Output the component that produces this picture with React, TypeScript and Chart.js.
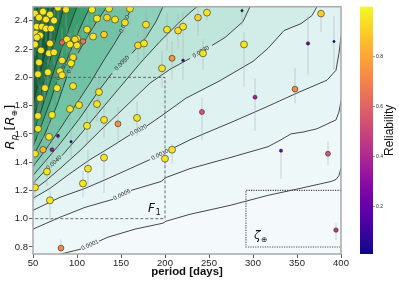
import React, { useEffect, useRef } from "react";
import { Chart, registerables } from "chart.js";

Chart.register(...registerables);

// ---------------- axes ----------------
const xTicks = [50, 100, 150, 200, 250, 300, 350, 400];
const yTicks = [0.8, 1.0, 1.2, 1.4, 1.6, 1.8, 2.0, 2.2, 2.4];
const xRange = [50, 400];
const yRange = [0.75, 2.5];
const cbarTicks = [0.2, 0.4, 0.6, 0.8];
const cbarRange = [0.01, 1.0];

// ---------------- contour lines (period, radius) ----------------
const contourLevels = ["0.0001", "0.0005", "0.0010", "0.0020", "0.0030", "0.0040", "0.0050", "0.0060", "0.0070", "0.0080", "0.0090", "0.0100", "0.0110"];
const c0001P = [50.0, 81.8, 104.5, 125.0, 135.2, 165.9, 197.7, 201.1, 228.4, 273.9, 317.0, 353.4, 388.6, 394.3, 397.7, 400];
const c0001R = [0.69, 0.75, 0.785, 0.841, 0.869, 0.926, 0.968, 0.982, 1.031, 1.094, 1.165, 1.214, 1.263, 1.277, 1.305, 1.361];
const c0005P = [50, 80.7, 109.1, 140.9, 161.4, 195.5, 201.1, 228.4, 273.9, 317.0, 331.8, 343.2, 357.9, 372.7, 394.3, 397.7, 400];
const c0005R = [0.926, 1.010, 1.080, 1.137, 1.200, 1.263, 1.291, 1.354, 1.432, 1.509, 1.558, 1.600, 1.614, 1.636, 1.699, 1.755, 1.832];
const c0010P = [50, 80.7, 109.1, 135.2, 160.2, 182.9, 205.7, 228.4, 246.6, 273.9, 312.5, 350.0, 384.1, 394.3, 397.7, 400];
const c0010R = [1.059, 1.151, 1.214, 1.284, 1.354, 1.418, 1.488, 1.558, 1.607, 1.678, 1.783, 1.889, 1.980, 2.050, 2.170, 2.289];
const c0020P = [50, 69.3, 92.0, 114.8, 135.2, 160.2, 179.5, 194.3, 223.9, 261.4, 300.0, 317.0, 335.2, 354.5, 367.0, 372.7];
const c0020R = [1.144, 1.214, 1.319, 1.418, 1.495, 1.593, 1.657, 1.720, 1.853, 1.973, 2.113, 2.205, 2.331, 2.380, 2.437, 2.500];
const c0030P = [50, 63.6, 80.7, 103.4, 126.1, 152.3, 182.9, 205.7, 228.4, 253.4, 268.2, 288.6, 296.6];
const c0030R = [1.200, 1.263, 1.354, 1.481, 1.621, 1.776, 1.959, 2.057, 2.134, 2.226, 2.282, 2.394, 2.500];
const c0040P = [50, 64.8, 83.0, 103.4, 126.1, 149.0, 171.6, 194.3, 214.8, 228.4, 236.4];
const c0040R = [1.249, 1.347, 1.446, 1.593, 1.762, 1.931, 2.099, 2.254, 2.381, 2.458, 2.500];
const c0050P = [50, 63.6, 80.7, 103.4, 126.1, 139.8, 162.5, 178.4, 189.8, 197.7];
const c0050R = [1.305, 1.404, 1.530, 1.713, 1.917, 2.029, 2.170, 2.282, 2.395, 2.500];
const c0060P = [50, 63.6, 80.7, 97.7, 114.8, 131.8, 142.0, 150.0, 157.9, 162.5];
const c0060R = [1.368, 1.481, 1.635, 1.797, 1.959, 2.134, 2.233, 2.317, 2.437, 2.500];
const c0070P = [50, 63.6, 77.3, 88.6, 101.1, 112.5, 123.9, 134.1];
const c0070R = [1.439, 1.600, 1.804, 2.008, 2.170, 2.296, 2.409, 2.500];
const c0080P = [50, 60.2, 69.3, 77.3, 87.5, 97.7, 106.8, 114.8];
const c0080R = [1.509, 1.671, 1.825, 1.973, 2.106, 2.268, 2.394, 2.500];
const c0090P = [50, 59.1, 68.2, 77.3, 87.5, 100.0];
const c0090R = [1.593, 1.762, 1.938, 2.113, 2.289, 2.500];
const c0100P = [50, 58.0, 65.9, 75.0, 85.2];
const c0100R = [1.692, 1.860, 2.043, 2.254, 2.500];
const c0110P = [50, 56.8, 64.8, 73.9];
const c0110R = [1.804, 1.987, 2.198, 2.500];
// segment (point index) of each line that carries its inline label, -1 = none
const contourLabelSeg = [2, 3, 5, 5, 8, 1, 5, 7, 3, 3, -1, -1, -1];

// ---------------- planets ----------------
const planetPeriod = [52.3, 56.8, 61.4, 69.3, 64.8, 78.4, 87.5, 117.0, 136.4, 160.2,
  122.7, 134.1, 143.2, 154.5, 178.4, 54.5, 60.2, 64.8, 70.5, 73.9,
  53.4, 58.0, 54.5, 111.4, 100.0, 130.7, 118.2, 202.3, 214.8, 220.5,
  52.3, 69.3, 83.0, 88.6, 97.7, 106.8, 100.0, 92.0, 59.1, 68.2,
  73.9, 95.5, 83.0, 93.2, 169.3, 176.1, 208.0, 220.5, 196.6, 56.8,
  80.7, 83.0, 55.7, 67.0, 63.6, 77.3, 95.5, 125.0, 58.0, 92.0,
  102.3, 122.7, 55.7, 71.6, 130.7, 146.6, 168.2, 111.4, 55.7, 68.2,
  78.4, 93.2, 61.4, 52.3, 71.6, 65.9, 52.3, 69.3, 106.8, 112.5,
  130.7, 200.0, 208.0, 81.8, 237.5, 247.7, 287.5, 289.8, 243.2, 362.5,
  392.0, 377.3, 347.7, 302.3, 242.0, 331.8, 385.2, 394.3];
const planetRadius = [2.451, 2.423, 2.465, 2.444, 2.409, 2.493, 2.479, 2.479, 2.486, 2.486,
  2.416, 2.423, 2.409, 2.388, 2.373, 2.359, 2.359, 2.345, 2.345, 2.402,
  2.310, 2.296, 2.282, 2.338, 2.275, 2.303, 2.289, 2.338, 2.331, 2.359,
  2.233, 2.240, 2.247, 2.268, 2.268, 2.254, 2.226, 2.233, 2.191, 2.170,
  2.177, 2.142, 2.120, 2.099, 2.226, 2.240, 2.135, 2.120, 2.064, 2.106,
  2.043, 2.015, 2.022, 2.036, 1.924, 1.924, 1.938, 1.896, 1.853, 1.776,
  1.804, 1.811, 1.727, 1.734, 1.699, 1.671, 1.713, 1.657, 1.636, 1.579,
  1.586, 1.544, 1.488, 1.460, 1.488, 1.333, 1.221, 1.130, 1.249, 1.354,
  1.432, 1.425, 1.488, 0.792, 2.423, 2.458, 2.472, 2.233, 2.170, 2.240,
  2.254, 2.451, 1.917, 1.860, 1.755, 1.481, 1.460, 0.919];
const planetReliability = [0.96, 0.95, 0.97, 0.96, 0.95, 0.97, 0.95, 0.97, 0.96, 0.95,
  0.96, 0.92, 0.95, 0.93, 0.94, 0.96, 0.95, 0.97, 0.95, 0.96,
  0.95, 0.97, 0.95, 0.95, 0.96, 0.90, 0.95, 0.95, 0.93, 0.95,
  0.96, 0.95, 0.62, 0.95, 0.93, 0.66, 0.95, 0.96, 0.95, 0.96,
  0.95, 0.94, 0.95, 0.96, 0.93, 0.95, 0.76, 0.12, 0.95, 0.95,
  0.96, 0.95, 0.95, 0.96, 0.95, 0.97, 0.95, 0.95, 0.96, 0.95,
  0.95, 0.95, 0.95, 0.96, 0.95, 0.74, 0.95, 0.96, 0.95, 0.95,
  0.18, 0.04, 0.84, 0.95, 0.33, 0.95, 0.95, 0.96, 0.96, 0.95,
  0.95, 0.95, 0.95, 0.72, 0.90, 0.95, 0.04, 0.95, 0.95, 0.24,
  0.03, 0.90, 0.72, 0.36, 0.56, 0.20, 0.55, 0.45];
const radiusErrMinus = [0.10, 0.08, 0.09, 0.10, 0.09, 0.08, 0.12, 0.10, 0.11, 0.12,
  0.09, 0.10, 0.12, 0.10, 0.14, 0.08, 0.08, 0.10, 0.07, 0.08,
  0.09, 0.08, 0.09, 0.12, 0.10, 0.13, 0.11, 0.15, 0.13, 0.14,
  0.08, 0.09, 0.10, 0.09, 0.10, 0.10, 0.09, 0.08, 0.08, 0.08,
  0.09, 0.09, 0.10, 0.09, 0.12, 0.12, 0.15, 0.14, 0.14, 0.08,
  0.09, 0.10, 0.08, 0.09, 0.09, 0.10, 0.11, 0.12, 0.09, 0.11,
  0.11, 0.12, 0.10, 0.10, 0.13, 0.13, 0.13, 0.12, 0.09, 0.10,
  0.10, 0.12, 0.10, 0.09, 0.10, 0.10, 0.09, 0.14, 0.10, 0.12,
  0.25, 0.06, 0.10, 0.04, 0.13, 0.06, 0.11, 0.30, 0.12, 0.22,
  0.20, 0.13, 0.10, 0.24, 0.20, 0.20, 0.08, 0.07];
const radiusErrPlus = [0.05, 0.08, 0.04, 0.06, 0.09, 0.01, 0.02, 0.02, 0.01, 0.01,
  0.08, 0.07, 0.09, 0.11, 0.10, 0.08, 0.09, 0.08, 0.07, 0.08,
  0.09, 0.08, 0.07, 0.10, 0.10, 0.10, 0.10, 0.12, 0.12, 0.10,
  0.08, 0.09, 0.10, 0.09, 0.08, 0.10, 0.09, 0.08, 0.08, 0.08,
  0.09, 0.09, 0.10, 0.09, 0.10, 0.10, 0.12, 0.12, 0.12, 0.08,
  0.09, 0.10, 0.08, 0.09, 0.09, 0.10, 0.11, 0.12, 0.09, 0.11,
  0.11, 0.12, 0.10, 0.10, 0.12, 0.12, 0.12, 0.12, 0.09, 0.10,
  0.10, 0.10, 0.10, 0.09, 0.10, 0.08, 0.08, 0.07, 0.09, 0.13,
  0.05, 0.06, 0.04, 0.06, 0.08, 0.04, 0.03, 0.09, 0.10, 0.19,
  0.18, 0.03, 0.15, 0.13, 0.10, 0.01, 0.09, 0.05];

// ---------------- boxes & annotations ----------------
const f1Box = [50, 200, 1.0, 2.0]; // pMin, pMax, rMin, rMax
const zetaBox = [292, 400, 0.8, 1.2];
const f1LabelAt = [180.7, 1.045];
const zetaLabelAt = [301, 0.855];

// ---------------- styles ----------------
const FONT = "'Liberation Sans', Arial, sans-serif";
const MATH = "'DejaVu Sans', sans-serif";
const plotBaseColor = "#f4fafc";
const bandColors = ["#eef8f9", "#e8f5f6", "#e0f2f1", "#d2ede7", "#c0e6dc", "#a8dccd", "#8dd0bb", "#70c3a5", "#54b28b", "#3c9f72", "#2a8b5c", "#1b7548", "#0f6237"];
const plasmaStops: [number, string][] = [
  [0, "#0d0887"], [0.1, "#41049d"], [0.2, "#6a00a8"], [0.3, "#8f0da4"], [0.4, "#b12a90"],
  [0.5, "#cc4778"], [0.6, "#e16462"], [0.7, "#f2844b"], [0.8, "#fca636"], [0.9, "#fcce25"], [1, "#f0f921"],
];

function hexRgb(h: string) {
  return [parseInt(h.slice(1, 3), 16), parseInt(h.slice(3, 5), 16), parseInt(h.slice(5, 7), 16)];
}
function plasma(v: number) {
  let t = (v - cbarRange[0]) / (cbarRange[1] - cbarRange[0]);
  t = Math.max(0, Math.min(1, t));
  for (let i = 0; i < plasmaStops.length - 1; i++) {
    const [a, ca] = plasmaStops[i];
    const [b, cb] = plasmaStops[i + 1];
    if (t <= b) {
      const f = (t - a) / (b - a);
      const A = hexRgb(ca), B = hexRgb(cb);
      return `rgb(${Math.round(A[0] + (B[0] - A[0]) * f)},${Math.round(A[1] + (B[1] - A[1]) * f)},${Math.round(A[2] + (B[2] - A[2]) * f)})`;
    }
  }
  return plasmaStops[plasmaStops.length - 1][1];
}

const contourP = [c0001P, c0005P, c0010P, c0020P, c0030P, c0040P, c0050P, c0060P, c0070P, c0080P, c0090P, c0100P, c0110P];
const contourR = [c0001R, c0005R, c0010R, c0020R, c0030R, c0040R, c0050R, c0060R, c0070R, c0080R, c0090R, c0100R, c0110R];

function buildDatasets() {
  const ds: any[] = contourLevels.map((lvl, k) => ({
    type: "line",
    label: lvl,
    data: contourP[k].map((p, i) => ({ x: p, y: contourR[k][i] })),
    borderColor: "#333333",
    borderWidth: 0.9,
    pointRadius: 0,
    tension: 0,
    fill: "end",
    backgroundColor: bandColors[k],
    order: 30 - k,
    segment: {
      borderColor: (c: any) => (c.p0DataIndex === contourLabelSeg[k] ? "rgba(0,0,0,0)" : undefined),
    },
  }));
  ds.push({
    type: "line",
    label: "F1",
    data: [
      { x: f1Box[0], y: f1Box[3] }, { x: f1Box[1], y: f1Box[3] },
      { x: f1Box[1], y: f1Box[2] }, { x: f1Box[0], y: f1Box[2] },
    ],
    borderColor: "#5a5a5a",
    borderWidth: 0.9,
    borderDash: [3, 2],
    pointRadius: 0,
    fill: false,
    order: 3,
  });
  ds.push({
    type: "line",
    label: "zeta",
    data: [
      { x: zetaBox[1], y: zetaBox[3] }, { x: zetaBox[0], y: zetaBox[3] },
      { x: zetaBox[0], y: zetaBox[2] }, { x: zetaBox[1], y: zetaBox[2] },
    ],
    borderColor: "#4a4a4a",
    borderWidth: 1.1,
    borderDash: [1.2, 1.2],
    pointRadius: 0,
    fill: false,
    order: 3,
  });
  const err: any[] = [];
  planetPeriod.forEach((p, i) => {
    err.push({ x: p, y: planetRadius[i] - radiusErrMinus[i] });
    err.push({ x: p, y: planetRadius[i] + radiusErrPlus[i] });
    err.push({ x: p, y: null });
  });
  ds.push({
    type: "line",
    label: "err",
    data: err,
    borderColor: "rgba(170,170,170,0.35)",
    borderWidth: 1.4,
    pointRadius: 0,
    spanGaps: false,
    fill: false,
    order: 1,
  });
  ds.push({
    type: "scatter",
    label: "planets",
    data: planetPeriod.map((p, i) => ({ x: p, y: planetRadius[i] })),
    pointBackgroundColor: planetReliability.map((r) => plasma(r)),
    pointBorderColor: "#2a2a2a",
    pointBorderWidth: 0.6,
    pointRadius: planetReliability.map((r) => 1.1 + 2.5 * r),
    order: 0,
  });
  return ds;
}

const decorPlugin: any = {
  id: "decor",
  beforeDraw(chart: any) {
    const { ctx, chartArea: a, width, height } = chart;
    ctx.save();
    ctx.fillStyle = "#ffffff";
    ctx.fillRect(0, 0, width, height);
    ctx.fillStyle = plotBaseColor;
    ctx.fillRect(a.left, a.top, a.right - a.left, a.bottom - a.top);
    ctx.restore();
  },
  afterDatasetDraw(chart: any, args: any) {
    if (args.index !== contourLevels.length - 1) return;
    const ctx = chart.ctx;
    ctx.save();
    ctx.font = `6px ${FONT}`;
    ctx.fillStyle = "#2a2a2a";
    ctx.textAlign = "center";
    ctx.textBaseline = "middle";
    contourLabelSeg.forEach((s, k) => {
      if (s < 0) return;
      const meta = chart.getDatasetMeta(k);
      const p0 = meta.data[s], p1 = meta.data[s + 1];
      if (!p0 || !p1) return;
      let ang = Math.atan2(p1.y - p0.y, p1.x - p0.x);
      if (ang > Math.PI / 2) ang -= Math.PI;
      if (ang < -Math.PI / 2) ang += Math.PI;
      ctx.save();
      ctx.translate((p0.x + p1.x) / 2, (p0.y + p1.y) / 2);
      ctx.rotate(ang);
      ctx.fillText(contourLevels[k], 0, 0);
      ctx.restore();
    });
    ctx.restore();
  },
  afterDatasetsDraw(chart: any) {
    const { ctx, chartArea: a, scales } = chart;
    const xs = scales.x, ys = scales.y;
    ctx.save();
    // frame
    ctx.strokeStyle = "#a9a9a9";
    ctx.lineWidth = 1.5;
    ctx.strokeRect(a.left, a.top, a.right - a.left, a.bottom - a.top);

    // F1 label
    ctx.fillStyle = "#111";
    ctx.textAlign = "left";
    ctx.textBaseline = "alphabetic";
    let fx = xs.getPixelForValue(f1LabelAt[0]);
    let fy = ys.getPixelForValue(f1LabelAt[1]);
    ctx.font = `italic 12px ${MATH}`;
    ctx.fillText("F", fx, fy);
    let w = ctx.measureText("F").width;
    ctx.font = `8.5px ${MATH}`;
    ctx.fillText("1", fx + w + 0.5, fy + 3);
    // zeta label
    fx = xs.getPixelForValue(zetaLabelAt[0]);
    fy = ys.getPixelForValue(zetaLabelAt[1]);
    ctx.font = `italic 12px ${MATH}`;
    ctx.fillText("ζ", fx, fy);
    w = ctx.measureText("ζ").width;
    ctx.font = `7.5px ${MATH}`;
    ctx.fillText("⊕", fx + w + 0.5, fy + 3);

    // colorbar
    const cx = a.right + 19, cw = 13;
    const g = ctx.createLinearGradient(0, a.bottom, 0, a.top);
    plasmaStops.forEach(([s, c]) => g.addColorStop(s, c));
    ctx.fillStyle = g;
    ctx.fillRect(cx, a.top, cw, a.bottom - a.top);
    ctx.strokeStyle = "#444";
    ctx.lineWidth = 0.6;
    ctx.fillStyle = "#222";
    ctx.font = `5px ${FONT}`;
    ctx.textBaseline = "middle";
    cbarTicks.forEach((v) => {
      const y = a.bottom - ((v - cbarRange[0]) / (cbarRange[1] - cbarRange[0])) * (a.bottom - a.top);
      ctx.beginPath();
      ctx.moveTo(cx + cw, y);
      ctx.lineTo(cx + cw + 2, y);
      ctx.stroke();
      ctx.fillText(v.toFixed(1), cx + cw + 3, y);
    });
    ctx.save();
    ctx.translate(393, (a.top + a.bottom) / 2);
    ctx.rotate(-Math.PI / 2);
    ctx.font = `12px ${FONT}`;
    ctx.textAlign = "center";
    ctx.textBaseline = "alphabetic";
    ctx.fillStyle = "#111";
    ctx.fillText("Reliability", 0, 0);
    ctx.restore();

    // x title
    ctx.font = `bold 11.4px ${FONT}`;
    ctx.textAlign = "center";
    ctx.textBaseline = "alphabetic";
    ctx.fillStyle = "#111";
    ctx.fillText("period [days]", (a.left + a.right) / 2, 275);

    // y title  R_p [R_⊕]
    const parts = [
      { t: "R", f: `italic 13px ${MATH}`, dy: 0 },
      { t: "p", f: `italic 9px ${MATH}`, dy: 3 },
      { t: " [", f: `13px ${MATH}`, dy: 0 },
      { t: "R", f: `italic 13px ${MATH}`, dy: 0 },
      { t: "⊕", f: `8px ${MATH}`, dy: 3 },
      { t: "]", f: `13px ${MATH}`, dy: 0 },
    ];
    let total = 0;
    parts.forEach((p) => { ctx.font = p.f; total += ctx.measureText(p.t).width; });
    ctx.save();
    ctx.translate(14, 127);
    ctx.rotate(-Math.PI / 2);
    ctx.textAlign = "left";
    let px = -total / 2;
    parts.forEach((p) => {
      ctx.font = p.f;
      ctx.fillText(p.t, px, p.dy);
      px += ctx.measureText(p.t).width;
    });
    ctx.restore();

    ctx.restore();
  },
};

export default function App() {
  const ref = useRef<HTMLCanvasElement>(null);
  useEffect(() => {
    document.body.style.margin = "0";
    const tickFont = { family: FONT, size: 9.5 };
    const chart = new Chart(ref.current as HTMLCanvasElement, {
      type: "scatter",
      data: { datasets: buildDatasets() },
      options: {
        animation: false,
        responsive: false,
        events: [],
        layout: { padding: { top: 5, right: 58, left: 0, bottom: 0 } },
        plugins: {
          legend: { display: false },
          tooltip: { enabled: false },
          filler: { drawTime: "beforeDatasetsDraw" },
        } as any,
        scales: {
          x: {
            type: "linear",
            min: xRange[0],
            max: xRange[1],
            afterBuildTicks: (s: any) => { s.ticks = xTicks.map((v) => ({ value: v })); },
            afterFit: (s: any) => { s.height = 27; },
            grid: { display: true, drawOnChartArea: false, drawTicks: true, tickLength: 4, color: "#333", lineWidth: 0.8 },
            border: { display: false },
            ticks: { font: tickFont, color: "#222", padding: 0, maxRotation: 0, autoSkip: false, callback: (v: any) => String(v) },
          },
          y: {
            type: "linear",
            min: yRange[0],
            max: yRange[1],
            afterBuildTicks: (s: any) => { s.ticks = yTicks.map((v) => ({ value: v })); },
            afterFit: (s: any) => { s.width = 33; },
            grid: { display: true, drawOnChartArea: false, drawTicks: true, tickLength: 4, color: "#333", lineWidth: 0.8 },
            border: { display: false },
            ticks: { font: tickFont, color: "#222", padding: 1, autoSkip: false, callback: (v: any) => Number(v).toFixed(1) },
          },
        },
      } as any,
      plugins: [decorPlugin],
    });
    return () => chart.destroy();
  }, []);
  return (
    <div style={{ width: 399, height: 281 }}>
      <canvas ref={ref} width={399} height={281} style={{ display: "block" }} />
    </div>
  );
}
